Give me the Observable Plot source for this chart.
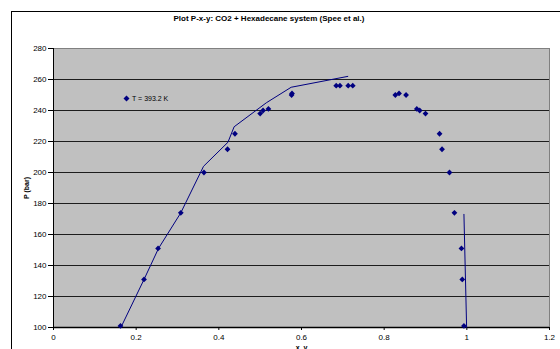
<!DOCTYPE html>
<html>
<head>
<meta charset="utf-8">
<script src="https://cdn.jsdelivr.net/npm/d3@7"></script>
<script src="https://cdn.jsdelivr.net/npm/@observablehq/plot@0.6"></script>
<style>
  html, body { margin: 0; padding: 0; background: #fff; overflow: hidden; }
  #wrap { position: relative; width: 560px; height: 349px; font-family: "Liberation Sans", Arial, sans-serif; }
  #border { position: absolute; left: 11px; top: 11px; width: 600px; height: 400px; border: 1px solid #000; box-sizing: border-box; }
  #title { position: absolute; left: 0; width: 538px; top: 14px; text-align: center; font-weight: bold; font-size: 8px; color: #000; }
  #legend { position: absolute; left: 123px; top: 95px; font-size: 7px; color: #000; display: flex; align-items: center; gap: 2px; }
  #chart { position: absolute; left: 0; top: 0; }
</style>
</head>
<body>
<div id="wrap">
  <div id="border"></div>
  <div id="chart"></div>
  <div id="title">Plot P-x-y: CO2 + Hexadecane system (Spee et al.)</div>
  <div id="legend"><svg width="7" height="7"><path d="M3.5,0.5L6.5,3.5L3.5,6.5L0.5,3.5Z" fill="#000080"/></svg><span>T = 393.2 K</span></div>
</div>
<script>
// Experimental data (x or y mole fraction CO2, pressure in bar)
const expX = [0.162, 0.219, 0.253, 0.308, 0.364, 0.421, 0.439, 0.500, 0.507, 0.520, 0.576, 0.577, 0.684, 0.693, 0.713, 0.724,
              0.827, 0.836, 0.853, 0.879, 0.886, 0.900, 0.934, 0.940, 0.958, 0.970, 0.987, 0.989, 0.993];
const expP = [101, 131, 151, 174, 200, 215, 225, 238, 240, 241, 250, 251, 256, 256, 256, 256,
              250, 251, 250, 241, 240, 238, 225, 215, 200, 174, 151, 131, 101];

// Calculated curve, liquid branch
const liqX = [0.163, 0.219, 0.254, 0.308, 0.363, 0.422, 0.437, 0.515, 0.575, 0.712];
const liqP = [100, 131, 151, 174, 204, 219.5, 229.5, 245, 255, 262];
// Calculated curve, vapour branch
const vapX = [0.993, 0.9995];
const vapP = [173, 100];

const xTicks = [0, 0.2, 0.4, 0.6, 0.8, 1, 1.2];
const yTicks = [100, 120, 140, 160, 180, 200, 220, 240, 260, 280];

const expData = expX.map((x, i) => ({x, p: expP[i]}));
const liqData = liqX.map((x, i) => ({x, p: liqP[i]}));
const vapData = vapX.map((x, i) => ({x, p: vapP[i]}));

const navy = "#000080";
const fmt = d3.format("~g");

const chart = Plot.plot({
  width: 560,
  height: 349,
  marginLeft: 53,
  marginRight: 11,
  marginTop: 48,
  marginBottom: 22,
  style: {fontFamily: "Liberation Sans, Arial, sans-serif", fontSize: "8px", background: "transparent", color: "#000"},
  x: {domain: [0, 1.2]},
  y: {domain: [100, 280]},
  marks: [
    Plot.frame({fill: "#c0c0c0", stroke: "#808080"}),
    Plot.ruleY(yTicks.slice(1, -1), {stroke: "#000", strokeWidth: 1, strokeOpacity: 0.85}),
    Plot.axisX({ticks: xTicks, tickFormat: fmt, tickSize: 3, tickPadding: 4, stroke: "#000",
      label: "x, y", labelAnchor: "center", labelArrow: "none", labelOffset: 22, fontSize: 8}),
    Plot.axisY({ticks: yTicks, tickFormat: fmt, tickSize: 5, tickPadding: 2, stroke: "#000",
      label: "P (bar)", labelAnchor: "center", labelArrow: "none", labelOffset: 29, fontSize: 8}),
    Plot.ruleX([0], {stroke: "#000", strokeWidth: 1}),
    Plot.ruleY([100], {stroke: "#000", strokeWidth: 1.5}),
    Plot.line(liqData, {x: "x", y: "p", stroke: navy, strokeWidth: 1}),
    Plot.line(vapData, {x: "x", y: "p", stroke: navy, strokeWidth: 1}),
    Plot.dot(expData, {x: "x", y: "p", symbol: "diamond2", r: 2.6, fill: navy, stroke: "none"})
  ]
});
// bold axis titles
chart.querySelectorAll("[aria-label='x-axis label'] text, [aria-label='y-axis label'] text").forEach(t => {
  t.setAttribute("font-weight", "bold");
  t.setAttribute("font-size", "7");
});
document.getElementById("chart").appendChild(chart);
</script>
</body>
</html>
